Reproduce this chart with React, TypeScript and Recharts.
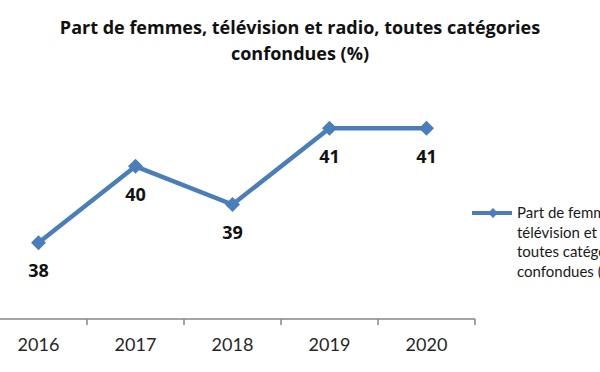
import { Legend, LabelList, Line, LineChart, XAxis, YAxis } from "recharts"

const years = ["2016", "2017", "2018", "2019", "2020"]
const shares = [38, 40, 39, 41, 41]
const seriesName = "Part de femmes, télévision et radio, toutes catégories confondues (%)"
const titleLines = ["Part de femmes, télévision et radio, toutes catégories", "confondues (%)"]

const data = years.map((year, i) => ({ year, value: shares[i] }))

const BLUE = "#4a7ebb"
const AXIS_GREY = "#868686"
const PLOT_WIDTH = 485
const HALF_BAND = PLOT_WIDTH / years.length / 2

function Diamond(props: any) {
  const { cx, cy, size = 7.5 } = props
  if (cx == null || cy == null) return null
  const r = size
  return <path d={`M${cx},${cy - r}L${cx + r},${cy}L${cx},${cy + r}L${cx - r},${cy}Z`} fill={BLUE} />
}

// year label, plus the separator tick at the right edge of each category
function YearTick(props: any) {
  const { x, y, payload } = props
  return (
    <g>
      <line x1={x + HALF_BAND} x2={x + HALF_BAND} y1={y - 20} y2={y - 14} stroke={AXIS_GREY} strokeWidth={1.5} />
      <text x={x} y={y + 12} textAnchor="middle" fill="#262626" fontSize={18} fontFamily="Lato, 'Open Sans', sans-serif">
        {payload.value}
      </text>
    </g>
  )
}

function LegendBox() {
  return (
    <div style={{ display: "flex", alignItems: "flex-start", fontFamily: "Lato, 'Open Sans', sans-serif", fontSize: 15, color: "#1a1a1a" }}>
      <svg width={44} height={20} style={{ flex: "none" }}>
        <line x1={0} x2={40} y1={10} y2={10} stroke={BLUE} strokeWidth={4} />
        <Diamond cx={21} cy={10} size={5} />
      </svg>
      <div style={{ width: 140, lineHeight: "19.5px", marginLeft: 1 }}>{seriesName}</div>
    </div>
  )
}

export default function App() {
  return (
    <div style={{ position: "absolute", left: 0, top: 0, width: 600, height: 372, overflow: "hidden", background: "#fff" }}>
      <div
        style={{
          position: "absolute",
          top: 14,
          left: 0,
          width: 600,
          textAlign: "center",
          fontFamily: "'Open Sans', sans-serif",
          fontWeight: 700,
          fontSize: 18,
          lineHeight: "26px",
          color: "#111",
        }}
      >
        {titleLines.map((t) => (
          <div key={t}>{t}</div>
        ))}
      </div>
      <div style={{ position: "absolute", left: -10, top: 0 }}>
        <LineChart width={720} height={372} data={data} margin={{ top: 90, right: 235, left: 0, bottom: 23 }}>
          <XAxis
            dataKey="year"
            height={30}
            padding={{ left: HALF_BAND, right: HALF_BAND }}
            tickLine={false}
            tickSize={6}
            tickMargin={14}
            axisLine={{ stroke: AXIS_GREY, strokeWidth: 1.5 }}
            tick={<YearTick />}
            interval={0}
          />
          <YAxis hide domain={[36, 42]} />
          <Legend
            layout="vertical"
            align="center"
            verticalAlign="middle"
            content={() => <LegendBox />}
            wrapperStyle={{ left: 482, top: 203, width: 200 }}
          />
          <Line
            name={seriesName}
            type="linear"
            dataKey="value"
            stroke={BLUE}
            strokeWidth={4.5}
            dot={<Diamond />}
            activeDot={false}
            isAnimationActive={false}
          >
            <LabelList
              dataKey="value"
              position="bottom"
              offset={22}
              fill="#111"
              fontSize={18}
              fontWeight={700}
              fontFamily="'Open Sans', sans-serif"
            />
          </Line>
        </LineChart>
      </div>
    </div>
  )
}
